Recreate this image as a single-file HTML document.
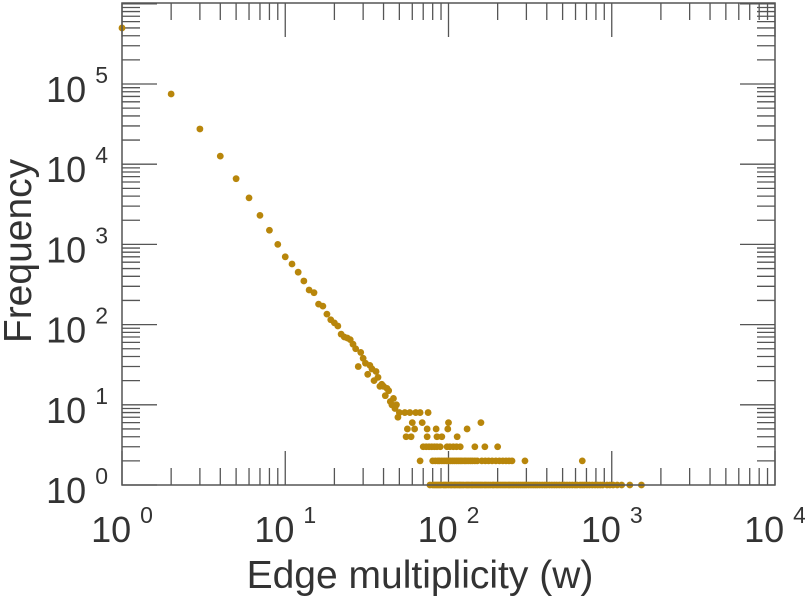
<!DOCTYPE html>
<html><head><meta charset="utf-8"><style>
html,body{margin:0;padding:0;background:#fff;}
svg{display:block;font-family:"Liberation Sans",sans-serif;}
</style></head><body>
<svg id="chart" width="805" height="600">
<g id="ticks"></g>
<g id="labels"></g>
<g id="points"></g>
<rect x="122" y="3" width="653" height="482" fill="none" stroke="#555" stroke-width="1.5"/>
<text x="420" y="588" text-anchor="middle" font-size="39" fill="#333">Edge multiplicity (w)</text>
<text transform="translate(31,251) rotate(-90)" text-anchor="middle" font-size="39" fill="#333">Frequency</text>
</svg>
<script>
const xTickExps = [0,1,2,3,4];
const yTickExps = [0,1,2,3,4,5];
const headW = [1,2,3,4,5,6,7,8,9,10,11,12,13,14,15,16,17,18,19,20,21,22,23,24,25,26,27,28,29,30,31,32,33,34,35,36,37,38,39,40,41,42,43,44,45,46,47,48,49];
const headFreq = [500000,75000,27500,12600,6600,3800,2300,1500,1000,700,570,450,350,270,250,180,170,135,115,105,96,76,70,68,65,57,50,30,45,38,33,24,31,28,20,26,22,17,18,17,13,16,15,11,10,12,9,10,7];
const row1W = [77,80,82,84,86,88,90,93,95,97,100,103,105,108,110,113,116,118,121,124,128,131,134,138,141,145,149,153,157,161,166,170,175,180,186,190,196,201,207,213,219,225,232,238,245,252,260,268,276,284,292,300,310,320,330,340,350,362,375,388,400,415,430,445,460,477,495,513,532,552,573,595,613,640,660,680,705,730,760,790,820,850,880,935,975,1020,1080,1150,1290,1520];
const row2W = [67,80,83,86,88,91,94,97,100,103,106,109,112,115,118,121,125,128,132,136,140,145,150,160,168,176,185,195,205,215,225,235,245,294,660];
const row3W = [70,73,76,79,82,85,89,98,102,107,112,118,145,167,200];
const row4W = [55,59,74,85,91,113];
const row5W = [56,62,74,84,99,130];
const row6W = [60,69,100,158];
const row8W = [50,54,58,63,67,75];
const tailRows = [[1,row1W],[2,row2W],[3,row3W],[4,row4W],[5,row5W],[6,row6W],[8,row8W]];

const X0=122, X1=775, Y0=485, Y1=3;
const xMin=0, xMax=4, yPerDec=80.2;
function xs(v){return X0+(Math.log10(v)-xMin)/(xMax-xMin)*(X1-X0);}
function ys(v){return Y0-Math.log10(v)*yPerDec;}
const NS="http://www.w3.org/2000/svg";
const tg=document.getElementById('ticks'), lg=document.getElementById('labels'), pg=document.getElementById('points');
function line(x1,y1,x2,y2){const l=document.createElementNS(NS,'line');
l.setAttribute('x1',x1);l.setAttribute('y1',y1);l.setAttribute('x2',x2);l.setAttribute('y2',y2);
l.setAttribute('stroke','#555');l.setAttribute('stroke-width','1.3');


tg.appendChild(l);}
for(let e=0;e<=4;e++){
  for(let m=1;m<=9;m++){
    if(e===4&&m>1)break;
    const x=xs(m*Math.pow(10,e));const L=(m===1)?34:17;
    line(x,Y0,x,Y0-L);line(x,Y1,x,Y1+L);
  }
}
for(let e=0;e<=6;e++){
  for(let m=1;m<=9;m++){
    const v=m*Math.pow(10,e);const y=ys(v);if(y<Y1-0.5)break;
    const L=(m===1)?35:18;
    line(X0,y,X0+L,y);line(X1,y,X1-L,y);
  }
}
function label(x,y,exp,anchor,name){
  const t=document.createElementNS(NS,'text');
  t.setAttribute('x',x);t.setAttribute('y',y);t.setAttribute('font-size','36');t.setAttribute('fill','#333');
  t.setAttribute('text-anchor',anchor);
  
  
  t.innerHTML='10<tspan dx="9" dy="-19" font-size="23">'+exp+'</tspan>';
  lg.appendChild(t);
}
xTickExps.forEach(e=>label(xs(Math.pow(10,e)),542,e,'middle','x-tick-label'));
yTickExps.forEach(e=>label(108,ys(Math.pow(10,e))+18,e,'end','y-tick-label'));
function dot(w,f){const c=document.createElementNS(NS,'circle');
c.setAttribute('cx',xs(w));c.setAttribute('cy',ys(f));c.setAttribute('r','3.4');c.setAttribute('fill','#b8860b');


pg.appendChild(c);}
headW.forEach((w,i)=>dot(w,headFreq[i]));
tailRows.forEach(r=>r[1].forEach(w=>dot(w,r[0])));
</script>
</body></html>
